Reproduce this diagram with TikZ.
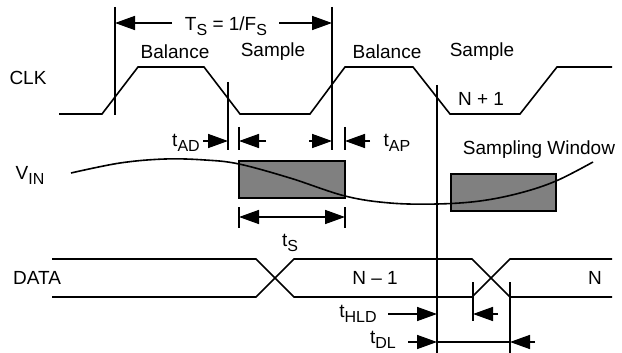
\documentclass[tikz,border=0pt]{standalone}
\usepackage{fontspec}
\setmainfont{Liberation Sans}
\usetikzlibrary{arrows.meta}
\newcommand\sbs[1]{\raisebox{-5pt}{\fontsize{16}{16}\selectfont #1}}
\begin{document}
\begin{tikzpicture}[x=1pt,y=-1pt,line width=1.6pt,
  lbl/.style={font=\fontsize{19}{19}\selectfont, inner sep=0pt},
  arrowtip/.tip={Triangle[length=20pt,width=14pt]},
  dimarr/.style={-arrowtip},
  dimboth/.style={arrowtip-arrowtip},
  win/.style={draw, fill=gray}]
\useasboundingbox (0,0) rectangle (622,353);

% labels
\node[lbl] (clk)  at (28,78) {CLK};
\node[lbl] (vin)  at (30,175) {V\sbs{IN}};
\node[lbl] (data) at (37,278) {DATA};
\node[lbl] (tslab) at (226,26) {T\sbs{S} = 1/F\sbs{S}};
\node[lbl] (bal1) at (175,52) {Balance};
\node[lbl] (sam1) at (273,52) {Sample};
\node[lbl] (bal2) at (387,52) {Balance};
\node[lbl] (sam2) at (482,52) {Sample};
\node[lbl] (np1)  at (481,99) {N + 1};
\node[lbl] (tad)  at (186,143) {t\sbs{AD}};
\node[lbl] (tap)  at (397,143) {t\sbs{AP}};
\node[lbl] (sw)   at (539,150) {Sampling Window};
\node[lbl] (tsm)  at (290,243) {t\sbs{S}};
\node[lbl] (nm1)  at (375,278) {N -- 1};
\node[lbl] (nn)   at (595,278) {N};
\node[lbl] (thld) at (358,314) {t\sbs{HLD}};
\node[lbl] (tdl)  at (383,340) {t\sbs{DL}};

% CLK waveform
\draw (59,114) -- (102,114) -- (138,67) -- (204,67) -- (240,114) -- (310,114)
      -- (345,67) -- (413,67) -- (450,114) -- (520,114) -- (557,67) -- (612,67);

% vertical reference lines
\draw (115,7) -- (115,115);
\draw (332,7) -- (332,150);
\draw (228,82) -- (228,150);
\draw (437,85) -- (437,353);
\draw (239,127) -- (239,150);
\draw (345,127) -- (345,150);
\draw (239,207) -- (239,228);
\draw (345,207) -- (345,228);
\draw (473,282) -- (473,321);
\draw (510,282) -- (510,353);

% sampling windows
\node[win, minimum width=106pt, minimum height=37pt, inner sep=0pt] (w1) at (292,179.5) {};
\node[win, minimum width=105pt, minimum height=37pt, inner sep=0pt] (w2) at (503.5,192.5) {};

% V_IN curve
\draw plot[smooth, tension=0.6] coordinates {(71,173) (120,163) (165,159) (205,160) (239,164)
  (290,178) (345,196) (390,203) (437,204) (480,201) (520,193) (556,181) (593,162)};

% DATA
\draw (52,259) -- (256,259) -- (294,297) -- (472,297) -- (510,259) -- (612,259);
\draw (52,297) -- (256,297) -- (294,259) -- (472,259) -- (510,297) -- (612,297);

% T_S dimension
\coordinate (tsl) at (115,23);
\coordinate (tsr) at (332,23);
\draw[dimarr] (172,23) -- (tsl);
\draw[dimarr] (279,23) -- (tsr);

% tAD / tAP
\draw[dimarr] (203,141) -- (228,141);
\draw[dimarr] (266,141) -- (239,141);
\draw[dimarr] (309,141) -- (332,141);
\draw[dimarr] (370,141) -- (345,141);

% tS
\draw[dimboth] (239,217) -- (345,217);

% tHLD / tDL
\draw[dimarr] (388,314) -- (437,314);
\draw[dimarr] (498,314) -- (473,314);
\draw[dimarr] (408,342) -- (437,342);
\draw (437,342) -- (510,342);
\draw[dimarr] (535,342) -- (510,342);
\end{tikzpicture}
\end{document}
